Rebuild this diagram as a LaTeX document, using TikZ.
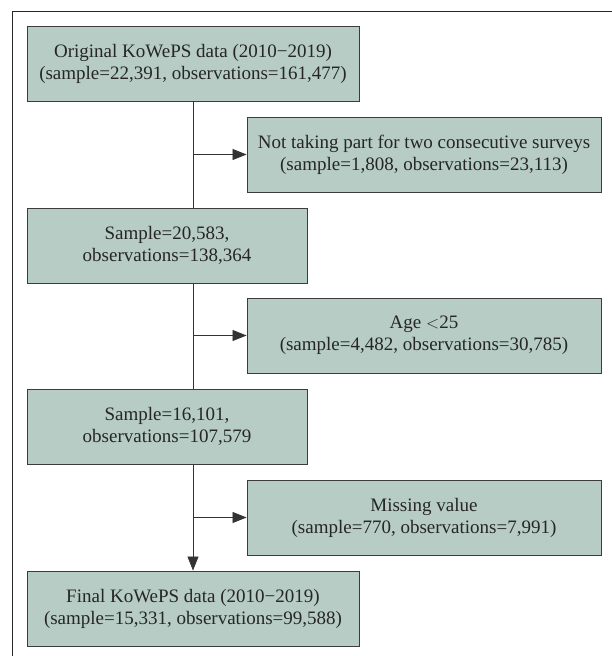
\documentclass[tikz,border=0pt]{standalone}
\usepackage{fontspec}
\setmainfont{Liberation Serif}
\usetikzlibrary{arrows.meta}
\definecolor{boxfill}{RGB}{182,204,196}
\definecolor{boxline}{RGB}{60,60,60}
\tikzset{
  flowbox/.style={draw=boxline, line width=0.9pt, fill=boxfill, align=center, inner sep=0pt,
    minimum height=75pt, font=\fontsize{19}{22}\selectfont, text=black!85},
  link/.style={draw=black!80, line width=0.8pt},
  arr/.style={link, -{Triangle[length=14pt,width=11pt]}}
}
\begin{document}
\begin{tikzpicture}[x=1pt,y=-1pt]
\useasboundingbox (0,0) rectangle (612,656);
\draw[line width=0.9pt, black!85] (12,656) -- (12,11) -- (612,11);
\node[flowbox, minimum width=332pt] (b1) at (193,63.5) {Original KoWePS data (2010\textminus2019)\\(sample=22,391, observations=161,477)};
\node[flowbox, minimum width=354pt] (b2) at (424,154.5) {Not taking part for two consecutive surveys\\(sample=1,808, observations=23,113)};
\node[flowbox, minimum width=280pt] (b3) at (167,245.5) {Sample=20,583,\\observations=138,364};
\node[flowbox, minimum width=354pt] (b4) at (424,335.5) {Age $<$25\\(sample=4,482, observations=30,785)};
\node[flowbox, minimum width=280pt] (b5) at (167,426.5) {Sample=16,101,\\observations=107,579};
\node[flowbox, minimum width=354pt] (b6) at (424,517.5) {Missing value\\(sample=770, observations=7,991)};
\node[flowbox, minimum width=332pt] (b7) at (193,608.5) {Final KoWePS data (2010\textminus2019)\\(sample=15,331, observations=99,588)};
\draw[link] (b1.south) -- (b1.south |- b3.north);
\draw[link] (b1.south |- b3.south) -- (b1.south |- b5.north);
\draw[arr] (b1.south |- b5.south) -- (b7.north);
\draw[arr] (b1.south |- b2.west) -- (b2.west);
\draw[arr] (b1.south |- b4.west) -- (b4.west);
\draw[arr] (b1.south |- b6.west) -- (b6.west);
\end{tikzpicture}
\end{document}
